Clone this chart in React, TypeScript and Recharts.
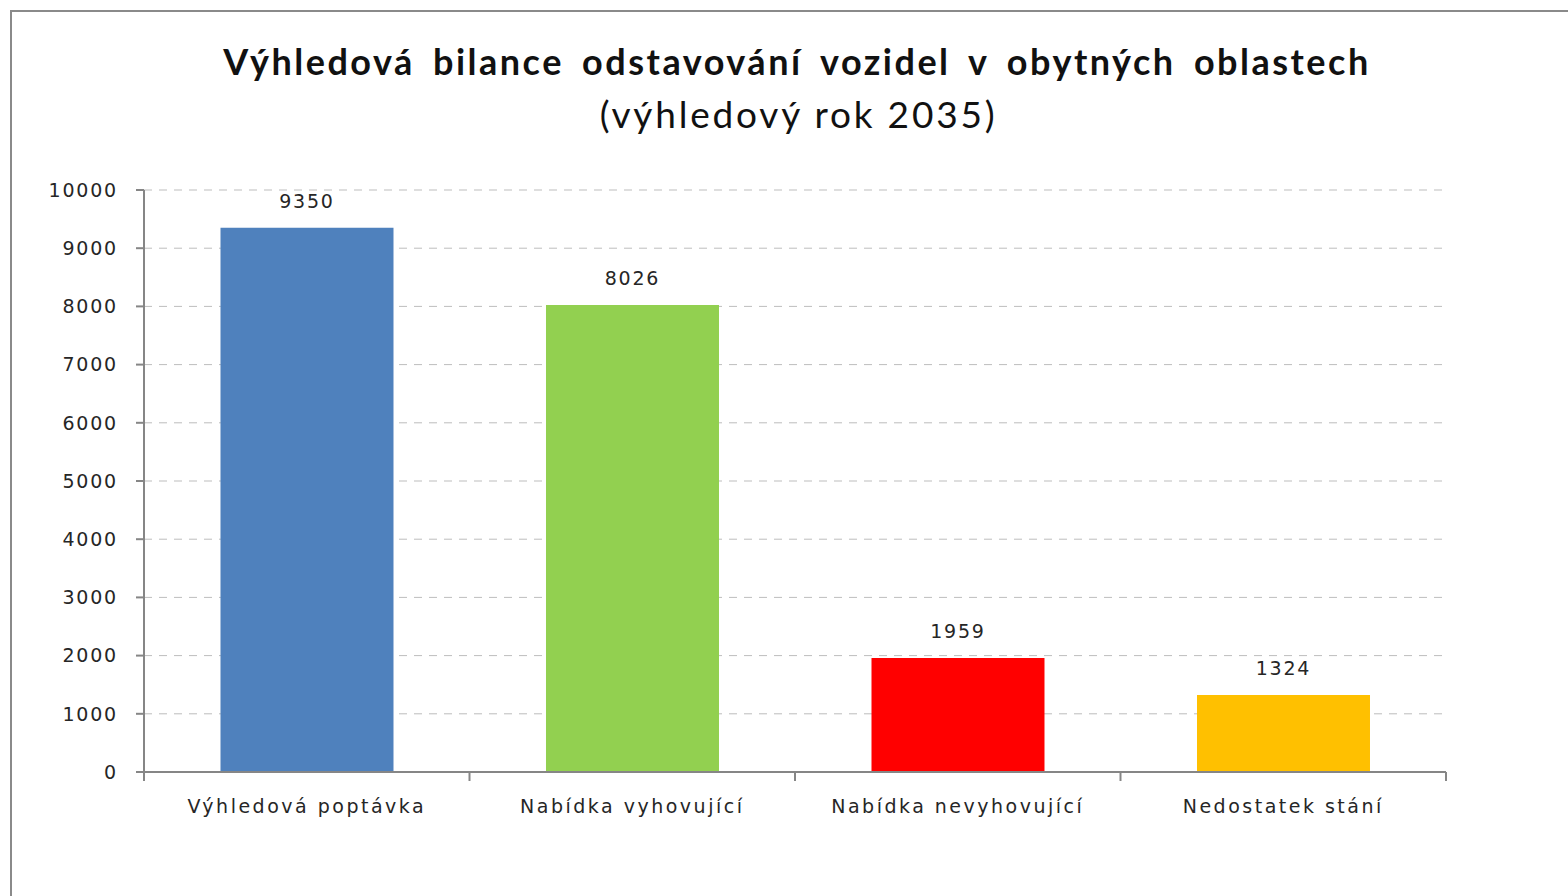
import React from "react";
import { BarChart, Bar, XAxis, YAxis, CartesianGrid, Cell, LabelList } from "recharts";

const categories = ["Výhledová poptávka", "Nabídka vyhovující", "Nabídka nevyhovující", "Nedostatek stání"];
const values = [9350, 8026, 1959, 1324];
const colors = ["#4F81BD", "#92D050", "#FF0000", "#FFC000"];
const yTicks = [0, 1000, 2000, 3000, 4000, 5000, 6000, 7000, 8000, 9000, 10000];
const titleLine1 = "Výhledová bilance odstavování vozidel v obytných oblastech";
const titleLine2 = "(výhledový rok 2035)";

const data = categories.map((name, i) => ({ name, value: values[i] }));

const axisFont = "'DejaVu Sans', Verdana, sans-serif";
const textColor = "#262626";
const axisColor = "#868686";

function CategoryTick(props: any) {
  const { x, y, payload, index, visibleTicksCount } = props;
  const half = payload && payload.offset ? payload.offset : 0;
  const count = visibleTicksCount ?? categories.length;
  return (
    <g>
      <line x1={x - half} x2={x - half} y1={y - 8} y2={y + 1} stroke={axisColor} strokeWidth={2} />
      {index === count - 1 && (
        <line x1={x + half} x2={x + half} y1={y - 8} y2={y + 1} stroke={axisColor} strokeWidth={2} />
      )}
      <text x={x} y={y + 26} textAnchor="middle" dominantBaseline="central" fill={textColor} fontSize={19} fontFamily={axisFont} letterSpacing={2.5}>
        {payload.value}
      </text>
    </g>
  );
}

export default function App() {
  return (
    <div style={{ position: "absolute", left: 0, top: 0, width: 1568, height: 896, background: "#fff", overflow: "hidden" }}>
      <div style={{ position: "absolute", left: 10, top: 10, width: 1700, height: 1000, borderLeft: "2px solid #8a8a8a", borderTop: "2px solid #8a8a8a" }} />
      <div style={{ position: "absolute", left: 0, top: 39, width: 1594, textAlign: "center", fontFamily: "Lato, 'Open Sans', sans-serif", fontWeight: 700, fontSize: 36, color: "#111", letterSpacing: 2.5, wordSpacing: 7, whiteSpace: "nowrap" }}>
        {titleLine1}
      </div>
      <div style={{ position: "absolute", left: 0, top: 91, width: 1597, textAlign: "center", fontFamily: "Lato, 'Open Sans', sans-serif", fontWeight: 400, fontSize: 37, color: "#111", letterSpacing: 2.8, whiteSpace: "nowrap" }}>
        {titleLine2}
      </div>
      <div style={{ position: "absolute", left: 0, top: 0 }}>
        <BarChart width={1568} height={896} data={data} margin={{ top: 190, right: 122, bottom: 60, left: 4 }} barCategoryGap="23.5%">
          <CartesianGrid vertical={false} stroke="#bdbdbd" strokeDasharray="8 7" />
          <XAxis
            dataKey="name"
            axisLine={{ stroke: axisColor, strokeWidth: 2 }}
            tickLine={false}
            height={64}
            tick={<CategoryTick />}
            interval={0}
          />
          <YAxis
            domain={[0, 10000]}
            ticks={yTicks}
            interval={0}
            width={140}
            tickSize={8}
            tickMargin={18}
            stroke={axisColor}
            strokeWidth={2}
            tick={{ fill: textColor, fontSize: 19, fontFamily: axisFont, letterSpacing: 1.8 }}
          />
          <Bar dataKey="value" isAnimationActive={false}>
            {data.map((d, i) => (
              <Cell key={d.name} fill={colors[i]} />
            ))}
            <LabelList dataKey="value" position="top" offset={20} fill={textColor} fontSize={19} fontFamily={axisFont} letterSpacing={1.8} />
          </Bar>
        </BarChart>
      </div>
    </div>
  );
}
